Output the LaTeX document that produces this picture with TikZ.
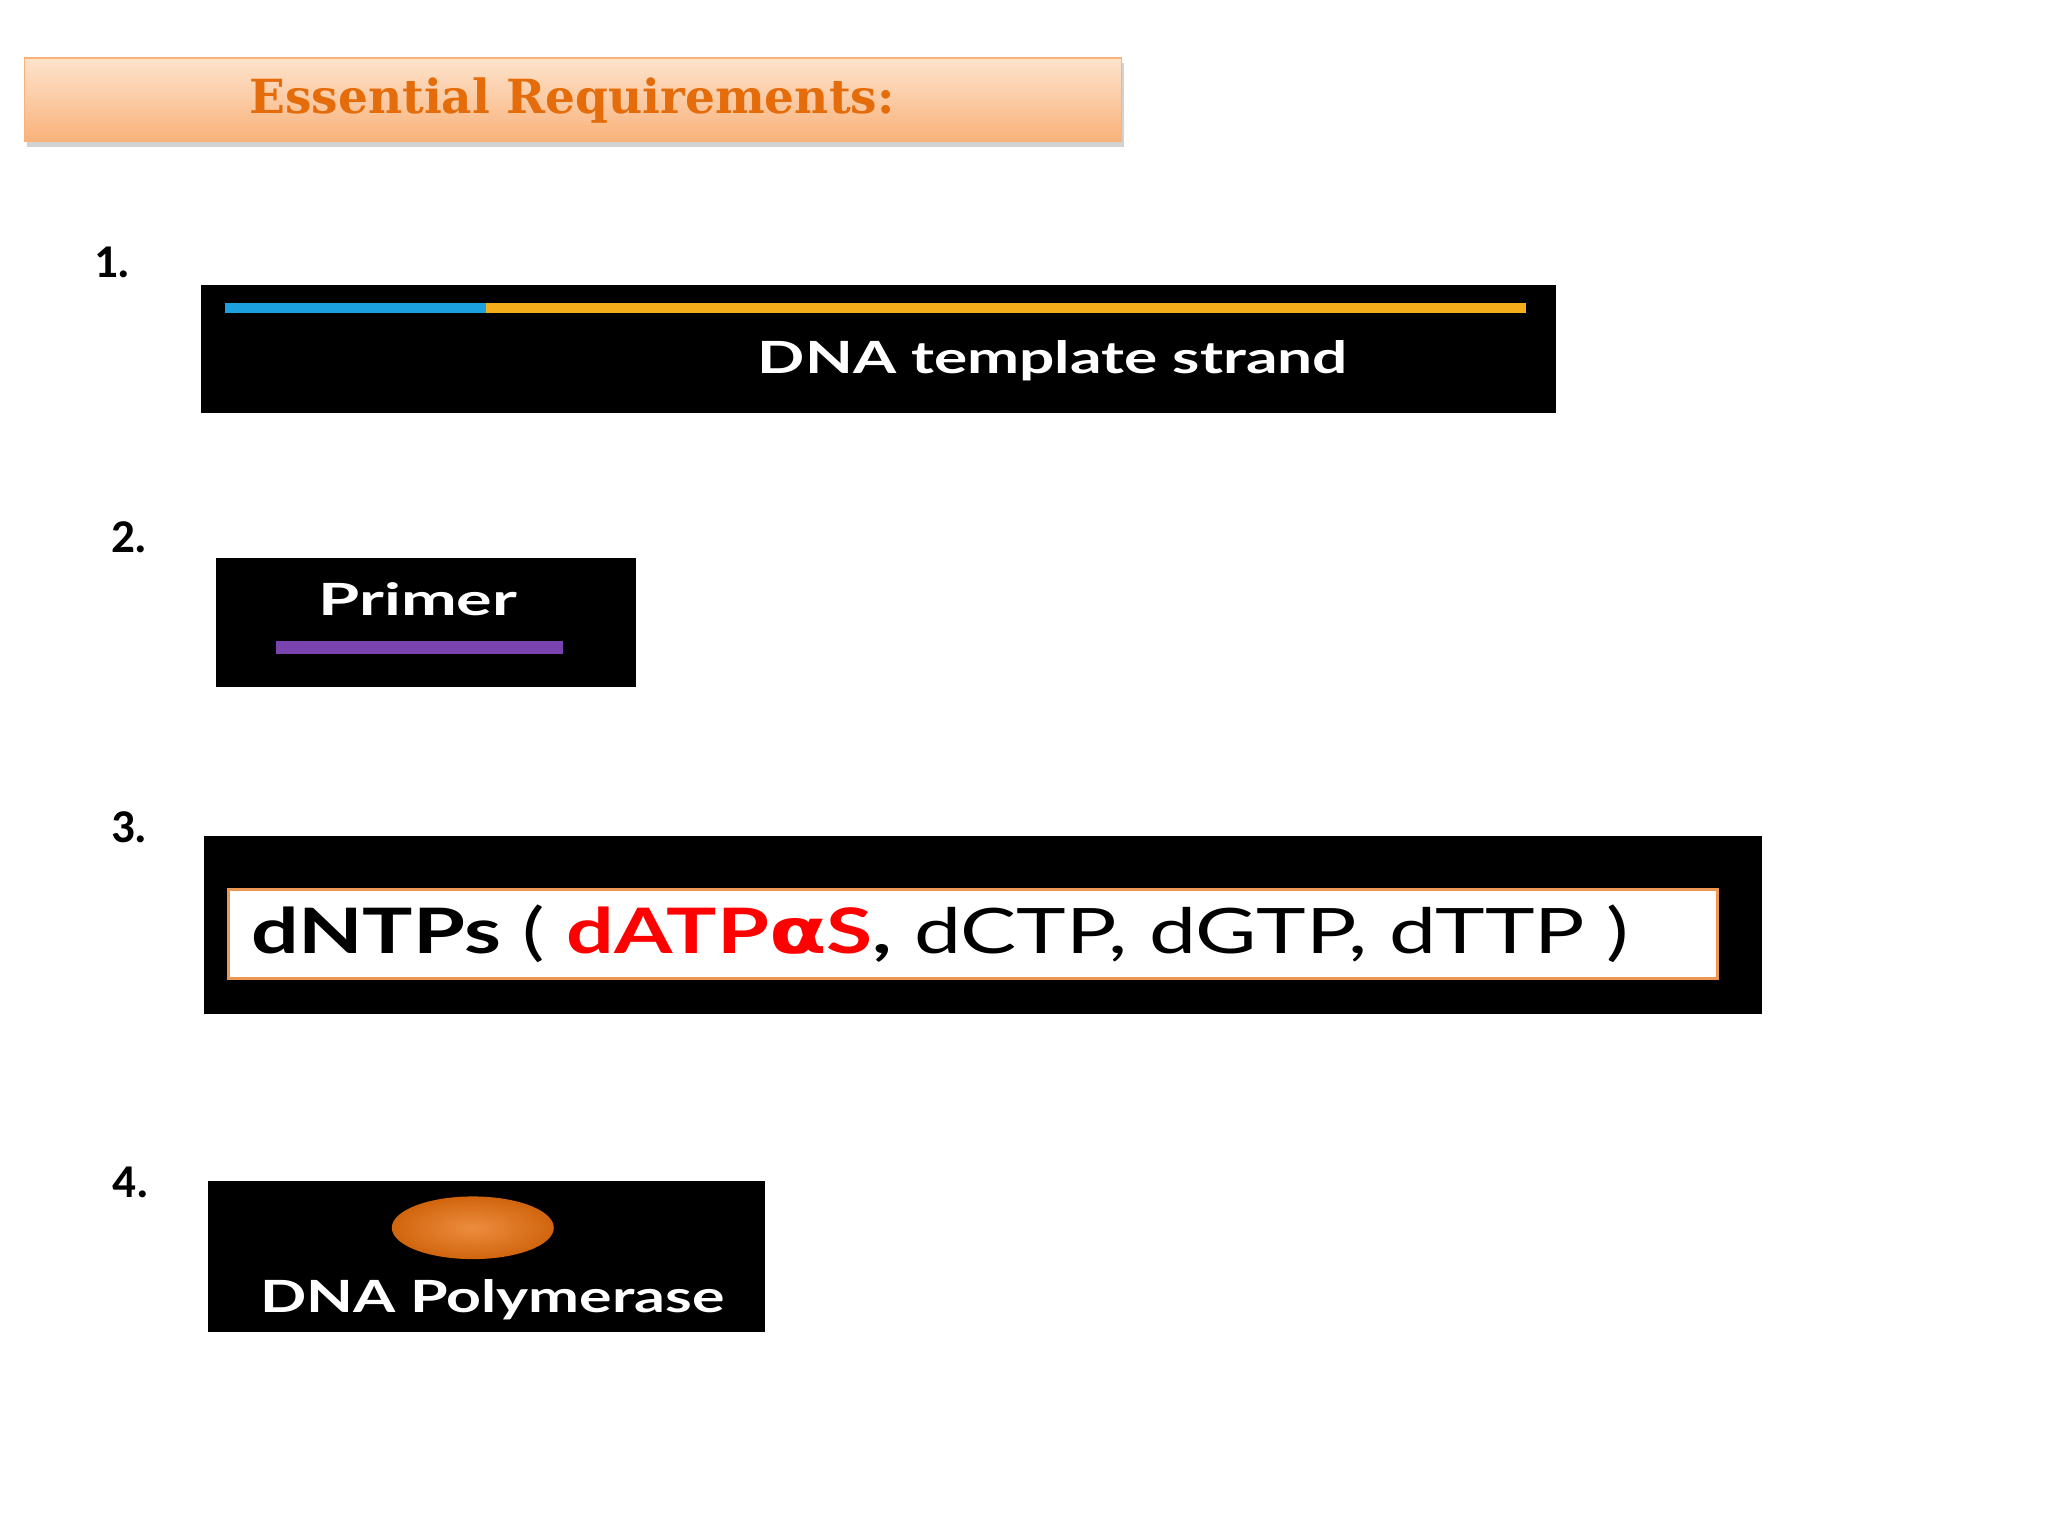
\documentclass[tikz,border=0pt]{standalone}
\usepackage{fontspec}
\setmainfont{Carlito}
\newfontfamily\ttl{DejaVu Serif}
\newfontfamily\lab{Lato}
\newfontfamily\dv{DejaVu Sans}
\usetikzlibrary{shadows}
\definecolor{org}{HTML}{E46C0A}
\definecolor{peach}{HTML}{FDE3CC}
\definecolor{peachd}{HTML}{F9B27A}
\definecolor{blu}{HTML}{1BA1E2}
\definecolor{yel}{HTML}{F5AE1A}
\definecolor{pur}{HTML}{7A44B0}
\definecolor{ell}{HTML}{E8700F}
\begin{document}
\begin{tikzpicture}[x=1pt,y=-1pt,
  blk/.style={fill=black,draw=none},
  num/.style={font=\fontsize{36}{40}\selectfont\bfseries,anchor=center},
  wt/.style={text=white,font=\lab\fontsize{34}{38}\selectfont\bfseries}]
\useasboundingbox (0,0) rectangle (1568,1176);
\fill[white] (0,0) rectangle (1568,1176);
% title
\node[draw=peachd,line width=1pt,top color=peach,bottom color=peachd,minimum width=840pt,minimum height=64pt,anchor=north west,drop shadow={opacity=0.35,shadow xshift=2pt,shadow yshift=-4pt},inner sep=0pt] (title) at (18,44) {};
\node[text=org,font=\ttl\fontsize{36}{40}\selectfont\bfseries] (tt) at (438,77) {Essential Requirements:};
% 1
\node[num] (n1) at (86,201) {1.};
\fill[blk] (154,218) rectangle (1191,316);
\coordinate (b1) at (172,236); \coordinate (b2) at (372,236); \coordinate (b3) at (1168,236);
\draw[blu,line width=8pt] (b1) -- (b2);
\draw[yel,line width=8pt] (b2) -- (b3);
\node[wt] (t1) at (806,276) {\scalebox{1.4}[1]{DNA template strand}};
% 2
\node[num] (n2) at (99,411) {2.};
\fill[blk] (165,427) rectangle (487,526);
\node[wt] (t2) at (320,459) {\scalebox{1.5}[1]{Primer}};
\coordinate (p1) at (211,496); \coordinate (p2) at (431,496);
\draw[pur,line width=10pt] (p1) -- (p2);
% 3
\node[num] (n3) at (99,633) {3.};
\fill[blk] (156,640) rectangle (1349,776);
\draw[fill=white,draw=org!70,line width=2.5pt] (175,681) rectangle (1315,749);
\node[anchor=west,font=\lab\fontsize{48}{54}\selectfont,inner sep=0pt] (t3) at (192,715)
 {\scalebox{1.34}[1]{\textbf{dNTPs} ( \textcolor{red}{\textbf{dATP{\dv α}S}}\textbf{,} dCTP, dGTP, dTTP )}};
% 4
\node[num] (n4) at (100,905) {4.};
\fill[blk] (159,904) rectangle (586,1020);
\shade[inner color=ell!80!white,outer color=ell!90!black] (362,940) ellipse (62pt and 24pt);
\node[wt] (t4) at (377,995) {\scalebox{1.37}[1]{DNA Polymerase}};
\end{tikzpicture}
\end{document}
